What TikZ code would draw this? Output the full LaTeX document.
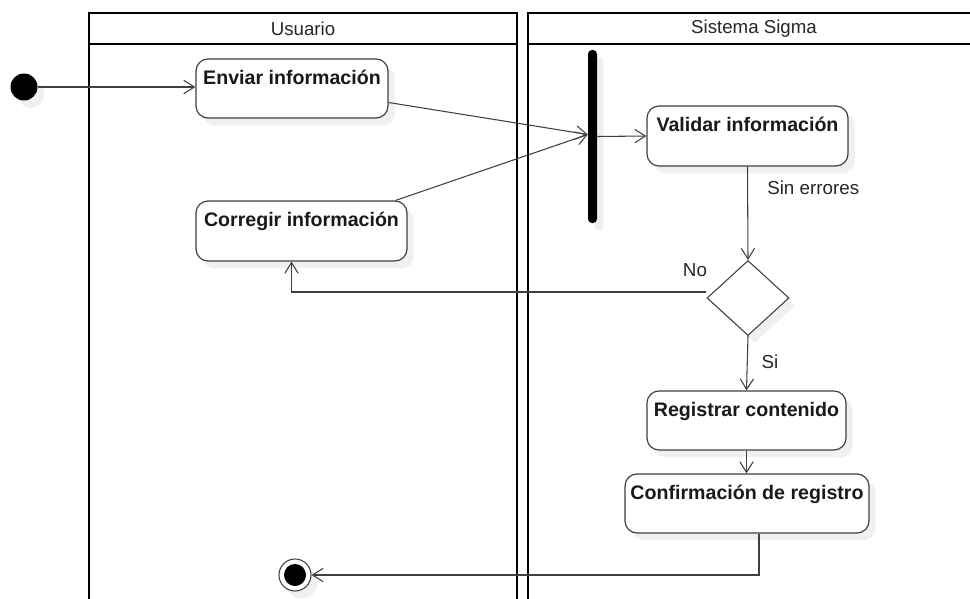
\documentclass[tikz,border=0pt]{standalone}
\usepackage{fontspec}
\setmainfont{Liberation Sans}
\usetikzlibrary{arrows.meta,shapes.geometric,shadows,calc}

% an activity: name, x1, y1, x2, y2, caption (caption sits near the top edge)
\newcommand\activity[6]{%
  \node[act, minimum width={(#4-#2)*0.75pt}, minimum height={(#5-#3)*0.75pt}]
    (#1) at ({(#2+#4)/2},{(#3+#5)/2}) {};
  \node[acttext] (#1-t) at ($(#1.north)+(0,26)$) {#6};
}

\begin{document}
\begin{tikzpicture}[x=0.75pt,y=-0.75pt,
  lane/.style={line width=1.8pt, draw=black},
  lanetitle/.style={font=\fontsize{14}{16}\selectfont, text=black!85, inner sep=0pt},
  softshadow/.style={drop shadow={shadow xshift=5pt, shadow yshift=-5.5pt, fill=black!6, opacity=1}},
  act/.style={draw=black!75, line width=0.9pt, rounded corners=9pt, fill=white,
    inner sep=0pt, softshadow},
  acttext/.style={font=\bfseries\fontsize{14.7}{17}\selectfont, anchor=base,
    text=black!90, inner sep=0pt},
  flow/.style={draw=black!75, line width=0.8pt, -{Straight Barb[length=8pt,width=10pt]}},
  plain/.style={draw=black!75, line width=0.8pt},
  guard/.style={font=\fontsize{14.1}{16}\selectfont, text=black!85, inner sep=0pt},
]
\useasboundingbox (0,0) rectangle (970,599);

% swimlanes
\draw[lane] (89,620) -- (89,13) -- (517,13) -- (517,620);
\draw[lane] (89,44) -- (517,44);
\draw[lane] (528,620) -- (528,13) -- (990,13);
\draw[lane] (528,44) -- (990,44);
\node[lanetitle] (lane-u) at (303,29) {Usuario};
\node[lanetitle] (lane-s) at (754,29) {Sistema Sigma};

% initial and final nodes
\node[circle, fill=black, minimum size=27*0.75pt, inner sep=0pt, softshadow] (init) at (24,87) {};
\node[circle, draw=black!75, line width=0.8pt, fill=white, minimum size=32*0.75pt,
  inner sep=0pt, softshadow] (final) at (295,575) {};
\node[circle, fill=black, minimum size=22*0.75pt, inner sep=0pt] (final-dot) at (final) {};

% activities
\activity{env}{196}{59}{388}{118}{Enviar información}
\activity{cor}{196}{201}{407}{261}{Corregir información}
\activity{val}{647}{106}{848}{166}{Validar información}
\activity{reg}{647}{391}{846}{450}{Registrar contenido}
\activity{conf}{625}{474}{869}{533}{Confirmación de registro}

% join bar
\node[fill=black, rounded corners=3pt, minimum width=9*0.75pt, minimum height=173*0.75pt,
  inner sep=0pt, softshadow] (fork) at (592.5,136.5) {};

% decision
\node[diamond, draw=black!75, line width=0.8pt, fill=white, minimum width=82*0.75pt,
  minimum height=75*0.75pt, inner sep=0pt, softshadow] (dia) at (748,298) {};

% flows
\draw[flow] (init.east) -- (init.east -| env.west);
\draw[flow] ($(env.east)+(0,14)$) -- ($(fork.west)+(0,-2)$);
\draw[flow] ($(cor.north east)+(-12,0)$) -- ($(fork.west)+(0,-2)$);
\draw[flow] (fork.east) -- (val.west);
\draw[flow] (val.south) -- (dia.north);
\coordinate (no-out) at ($(dia.west)+(0,-6)$);
\coordinate (cor-in) at ($(cor.south)+(-10,0)$);
\draw[flow] (no-out) -| (cor-in);
\draw[flow] (dia.south) -- (reg.north);
\draw[flow] (reg.south) -- (reg.south |- conf.north);
\coordinate (conf-out) at ($(conf.south)+(12,0)$);
\draw[flow] (conf-out) |- (final.east);

% guards
\node[guard, anchor=west] (g-ok) at (767,188) {Sin errores};
\node[guard] (g-no) at (695,270) {No};
\node[guard] (g-si) at (770,362) {Si};
\end{tikzpicture}
\end{document}
